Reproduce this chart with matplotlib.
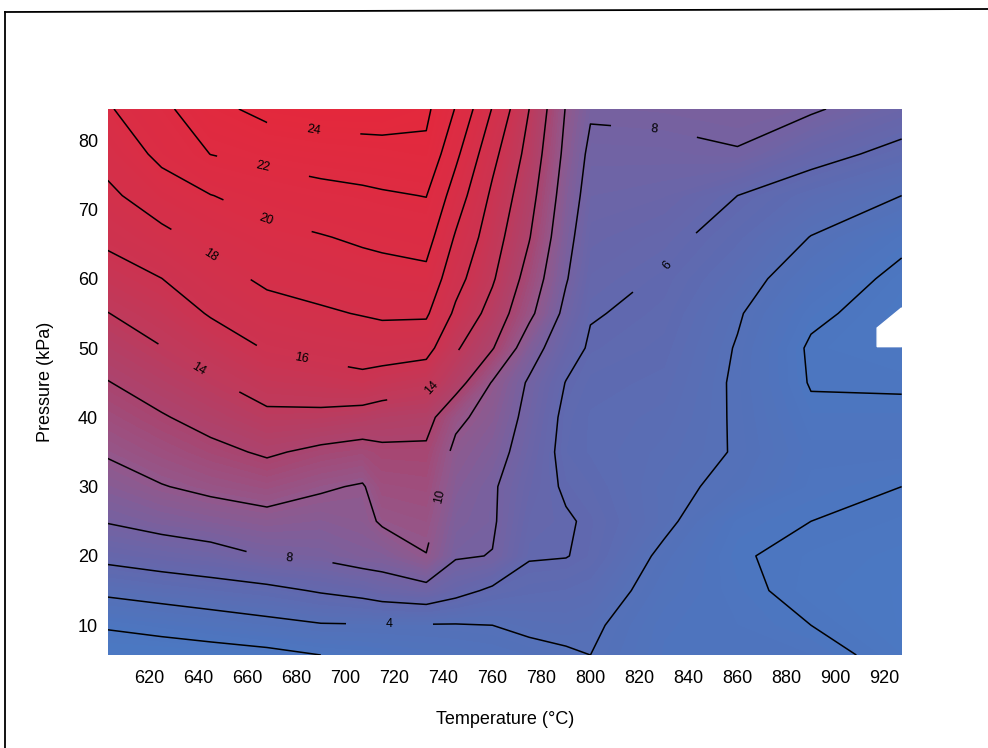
import numpy as np
import matplotlib
matplotlib.use("Agg")
import matplotlib.pyplot as plt
from matplotlib.colors import LinearSegmentedColormap
from matplotlib.lines import Line2D

plt.rcParams['font.family'] = ['Liberation Sans', 'DejaVu Sans']

# 温度 / 压力网格
temperature = [603, 625, 645, 668, 690, 707, 715, 733, 745, 760, 775, 790, 800, 830, 860, 890, 927]
pressure = [5.7, 10, 15, 20, 25, 30, 35, 40, 45, 50, 55, 60, 66, 72, 78, 84.5]

# 每列 = 一个温度, 自下而上对应 pressure
z_603 = [1.0, 2.18, 4.42, 6.52, 8.1, 9.17, 10.19, 11.06, 11.93, 12.94, 13.96, 15.1, 16.42, 17.6, 18.69, 19.8]
z_625 = [1.0, 2.62, 4.84, 6.97, 8.63, 9.92, 10.9, 11.85, 12.88, 13.94, 14.96, 15.98, 17.48, 19.08, 20.44, 21.5]
z_645 = [1.2, 3.02, 5.19, 7.32, 9.02, 10.4, 11.53, 12.65, 13.78, 14.96, 16.15, 17.25, 18.59, 19.95, 22.03, 23.4]
z_668 = [1.5, 3.48, 5.55, 8.05, 9.42, 10.83, 12.24, 13.6, 14.88, 16.12, 17.28, 18.34, 19.42, 20.79, 22.6, 24.6]
z_690 = [2.0, 3.87, 6.16, 8.28, 9.2, 10.2, 11.6, 13.53, 15.18, 16.55, 17.76, 18.75, 19.89, 21.33, 22.98, 25.0]
z_707 = [2.2, 3.9, 6.6, 8.8, 9.5, 9.85, 11.3, 13.2, 15.5, 16.8, 18.1, 19.1, 20.3, 21.6, 23.2, 25.0]
z_715 = [2.4, 3.9, 6.98, 8.87, 10.21, 10.92, 11.63, 12.96, 15.12, 16.93, 18.27, 19.24, 20.46, 21.78, 23.28, 25.0]
z_733 = [2.8, 3.9, 7.4, 9.95, 10.5, 11.08, 11.66, 12.71, 14.6, 16.68, 18.26, 19.45, 20.78, 22.05, 23.57, 24.4]
z_745 = [3.0, 3.9, 6.58, 8.17, 8.64, 9.11, 9.58, 10.4, 12.85, 14.25, 15.64, 16.69, 17.8, 19.08, 20.44, 21.9]
z_760 = [3.2, 4.0, 5.7, 7.95, 8.2, 8.21, 8.76, 9.3, 9.87, 12.12, 13.28, 14.22, 14.92, 15.62, 16.56, 17.9]
z_775 = [3.5, 4.34, 5.34, 6.12, 6.45, 6.78, 7.12, 7.45, 7.78, 8.87, 10.44, 11.22, 12.1, 12.72, 13.34, 14.0]
z_790 = [3.8, 4.47, 5.21, 6.05, 6.15, 5.8, 5.5, 5.6, 5.95, 6.72, 7.5, 8.14, 8.6, 9.05, 9.5, 9.9]
z_800 = [4.0, 4.3, 5.0, 5.7, 5.8, 5.5, 5.2, 5.2, 5.4, 5.8, 6.1, 6.45, 6.85, 7.25, 7.6, 8.2]
z_830 = [2.7, 2.8, 3.2, 3.65, 4.38, 4.39, 4.64, 4.89, 5.14, 5.39, 5.64, 5.89, 6.39, 7.02, 7.65, 8.3]
z_860 = [2.7, 2.5, 2.3, 2.1, 2.4, 3.6, 3.9, 3.85, 3.8, 3.9, 4.15, 4.7, 5.35, 6.0, 7.9, 8.5]
z_890 = [2.5, 2.0, 1.6, 1.7, 2.0, 2.4, 2.6, 2.3, 1.9, 1.8, 2.3, 3.0, 3.96, 5.0, 6.6, 8.2]
z_927 = [1.5, 1.2, 1.2, 1.4, 1.7, 2.0, 2.6, 2.3, 1.85, 1.5, 1.3, 1.6, 2.4, 4.0, 5.5, 7.0]

# 数据范围外的空白区 (右侧缺口)
gap_T = [917, 927, 927, 917]
gap_P = [52.9, 55.8, 50.2, 50.2]

contour_levels = [2, 4, 6, 8, 10, 12, 14, 16, 18, 20, 22, 24]

# 等值线标注位置
label_pos = [(687, 81.5), (666.5, 76.4), (668.5, 69.2), (645, 63.4), (682, 48.3),
             (640, 47), (732.6, 45), (739, 28.5), (677, 19.1), (718, 10.3),
             (830, 62.3), (826, 81.3)]

columns = [z_603, z_625, z_645, z_668, z_690, z_707, z_715, z_733, z_745,
           z_760, z_775, z_790, z_800, z_830, z_860, z_890, z_927]
Z = np.array(columns).T
X, Y = np.meshgrid(temperature, pressure)

cmap = LinearSegmentedColormap.from_list('redblue', [
    (0 / 25, '#4a7bc6'), (2 / 25, '#4c76c0'), (4 / 25, '#5570b8'),
    (6 / 25, '#6168ae'), (8 / 25, '#7462a2'), (10 / 25, '#92588c'),
    (12 / 25, '#aa446e'), (14 / 25, '#be3a5c'), (16 / 25, '#cc3350'),
    (20 / 25, '#da2d45'), (25 / 25, '#e4283c')])

fig = plt.figure(figsize=(9.88, 7.48), dpi=100)
ax = fig.add_axes([0.109, 0.1243, 0.8036, 0.730])

fill_levels = np.linspace(0, 25.5, 103)
cf = ax.contourf(X, Y, Z, levels=fill_levels, cmap=cmap, vmin=0, vmax=25, antialiased=False)
ax.fill(gap_T, gap_P, color='white', zorder=2)

cs = ax.contour(X, Y, Z, levels=contour_levels, colors='black', linewidths=1.1, zorder=3)
ax.clabel(cs, manual=label_pos, inline=True, inline_spacing=40, fontsize=9, fmt='%d')

ax.set_xlim(603, 927)
ax.set_ylim(5.7, 84.5)
ax.set_xticks(range(620, 921, 20))
ax.set_yticks(range(10, 81, 10))
ax.tick_params(length=0, labelsize=13)
ax.tick_params(axis='x', pad=11)
ax.tick_params(axis='y', pad=7)
for s in ax.spines.values():
    s.set_visible(False)

ax.set_xlabel('Temperature (°C)', fontsize=13, labelpad=17)
ax.set_ylabel('Pressure (kPa)', fontsize=13, labelpad=17)

# 扫描件外框
fig.add_artist(Line2D([5 / 988, 5 / 988], [0, 1 - 12 / 748], transform=fig.transFigure, color='black', lw=1.3))
fig.add_artist(Line2D([5 / 988, 1.0], [1 - 12 / 748, 1 - 9 / 748], transform=fig.transFigure, color='black', lw=1.3))

fig.savefig('out.png', dpi=100)
